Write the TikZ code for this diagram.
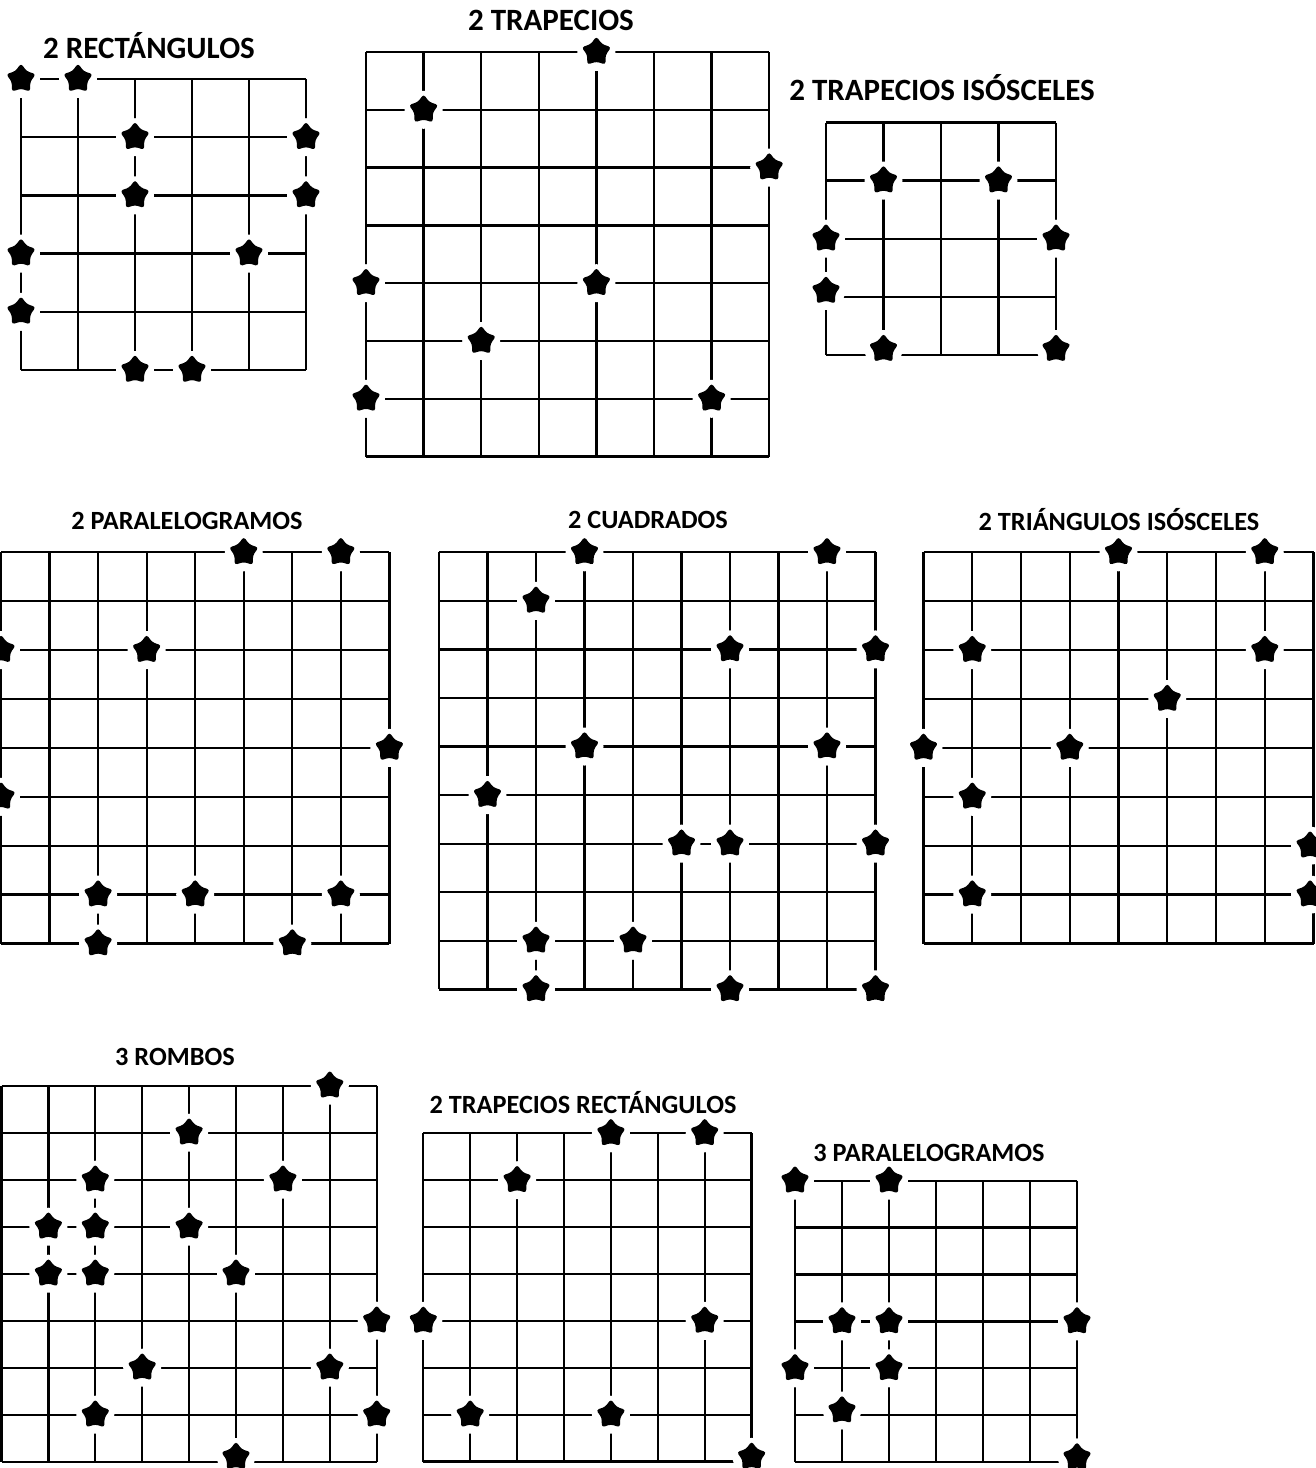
\documentclass[tikz,border=0pt]{standalone}
\usepackage{fontspec}
\setmainfont{Carlito}
\usetikzlibrary{shapes.geometric}

\tikzset{
  rejilla/.style={line width=2.3pt},
  flor/.style={circle, fill=white, inner sep=0pt, minimum size=38pt,
    path picture={\node[star, star points=5, star point ratio=1.6,
      fill=black, rounded corners=2.8pt, inner sep=0pt, minimum size=31pt]
      at (path picture bounding box.center) {};}},
  titulo/.style={font=\bfseries\fontsize{31}{31}\selectfont},
  subtitulo/.style={font=\bfseries\fontsize{26.3}{27}\selectfont}
}

\begin{document}
\begin{tikzpicture}[x=1pt, y=-1pt]
  \fill[white] (0,0) rectangle (1316,1468);
  \useasboundingbox (0,0) rectangle (1316,1468);

  % 2 rectangulos
  \node[titulo] (tr) at (149,46) {2 RECTÁNGULOS};
  \begin{scope}[shift={(21,79)}, x=57pt, y=-58.2pt]
    \foreach \i in {0,...,5} {\draw[rejilla] (\i,0) -- (\i,5);
      \draw[rejilla] (0,\i) -- (5,\i);}
    \foreach \p/\q [count=\k] in {0/0,1/0,2/1,5/1,2/2,5/2,0/3,4/3,0/4,2/5,3/5}
      \node[flor] (r\k) at (\p,\q) {};
  \end{scope}

  % 2 trapecios
  \node[titulo] (tt) at (551,20) {2 TRAPECIOS};
  \begin{scope}[shift={(366,52)}, x=57.6pt, y=-57.8pt]
    \foreach \i in {0,...,7} {\draw[rejilla] (\i,0) -- (\i,7);
      \draw[rejilla] (0,\i) -- (7,\i);}
    \foreach \p/\q [count=\k] in {4/0,1/1,7/2,0/4,4/4,2/5,0/6,6/6}
      \node[flor] (t\k) at (\p,\q) {};
  \end{scope}

  % 2 trapecios isosceles
  \node[titulo] (ti) at (942,88) {2 TRAPECIOS ISÓSCELES};
  \begin{scope}[shift={(826,122.5)}, x=57.5pt, y=-58.1pt]
    \foreach \i in {0,...,4} {\draw[rejilla] (\i,0) -- (\i,4);
      \draw[rejilla] (0,\i) -- (4,\i);}
    \foreach \p/\q [count=\k] in {1/1,3/1,0/2,4/2,0/2.9,1/3.9,4/3.9}
      \node[flor] (i\k) at (\p,\q) {};
  \end{scope}

  % 2 paralelogramos
  \node[subtitulo] (tp) at (187,521) {2 PARALELOGRAMOS};
  \begin{scope}[shift={(1,552.3)}, x=48.55pt, y=-48.9pt]
    \foreach \i in {0,...,8} {\draw[rejilla] (\i,0) -- (\i,8);
      \draw[rejilla] (0,\i) -- (8,\i);}
    \foreach \p/\q [count=\k] in {5/0,7/0,0/2,3/2,8/4,0/5,2/7,4/7,7/7,2/8,6/8}
      \node[flor] (p\k) at (\p,\q) {};
  \end{scope}

  % 2 cuadrados
  \node[subtitulo] (tc) at (648,520) {2 CUADRADOS};
  \begin{scope}[shift={(439,552.3)}, x=48.5pt, y=-48.56pt]
    \foreach \i in {0,...,9} {\draw[rejilla] (\i,0) -- (\i,9);
      \draw[rejilla] (0,\i) -- (9,\i);}
    \foreach \p/\q [count=\k] in {3/0,8/0,2/1,6/2,9/2,3/4,8/4,1/5,5/6,6/6,9/6,
        2/8,4/8,2/9,6/9,9/9}
      \node[flor] (c\k) at (\p,\q) {};
  \end{scope}

  % 2 triangulos isosceles
  \node[subtitulo] (ts) at (1119,520) {2 TRIÁNGULOS ISÓSCELES};
  \begin{scope}[shift={(923.5,552.3)}, x=48.75pt, y=-48.9pt]
    \foreach \i in {0,...,8} {\draw[rejilla] (\i,0) -- (\i,8);
      \draw[rejilla] (0,\i) -- (8,\i);}
    \foreach \p/\q [count=\k] in {4/0,7/0,1/2,7/2,5/3,0/4,3/4,1/5,7.93/6,1/7,7.93/7}
      \node[flor] (s\k) at (\p,\q) {};
  \end{scope}

  % 3 rombos
  \node[subtitulo] (tm) at (175,1057) {3 ROMBOS};
  \begin{scope}[shift={(1.5,1085.7)}, x=46.9pt, y=-47pt]
    \foreach \i in {0,...,8} {\draw[rejilla] (\i,0) -- (\i,8);
      \draw[rejilla] (0,\i) -- (8,\i);}
    \foreach \p/\q [count=\k] in {7/0,4/1,2/2,6/2,1/3,2/3,4/3,1/4,2/4,5/4,
        8/5,3/6,7/6,2/7,8/7,5/7.9}
      \node[flor] (m\k) at (\p,\q) {};
  \end{scope}

  % 2 trapecios rectangulos
  \node[subtitulo] (te) at (583,1103) {2 TRAPECIOS RECTÁNGULOS};
  \begin{scope}[shift={(423.3,1133.3)}, x=46.9pt, y=-46.9pt]
    \foreach \i in {0,...,7} {\draw[rejilla] (\i,0) -- (\i,7);
      \draw[rejilla] (0,\i) -- (7,\i);}
    \foreach \p/\q [count=\k] in {4/0,6/0,2/1,0/4,6/4,1/6,4/6,7/6.9}
      \node[flor] (e\k) at (\p,\q) {};
  \end{scope}

  % 3 paralelogramos
  \node[subtitulo] (tq) at (929,1153) {3 PARALELOGRAMOS};
  \begin{scope}[shift={(795,1180.7)}, x=47pt, y=-46.9pt]
    \foreach \i in {0,...,6} {\draw[rejilla] (\i,0) -- (\i,6);
      \draw[rejilla] (0,\i) -- (6,\i);}
    \foreach \p/\q [count=\k] in {0/0,2/0,1/3,2/3,6/3,0/4,2/4,1/4.9,6/5.9}
      \node[flor] (q\k) at (\p,\q) {};
  \end{scope}
\end{tikzpicture}
\end{document}
